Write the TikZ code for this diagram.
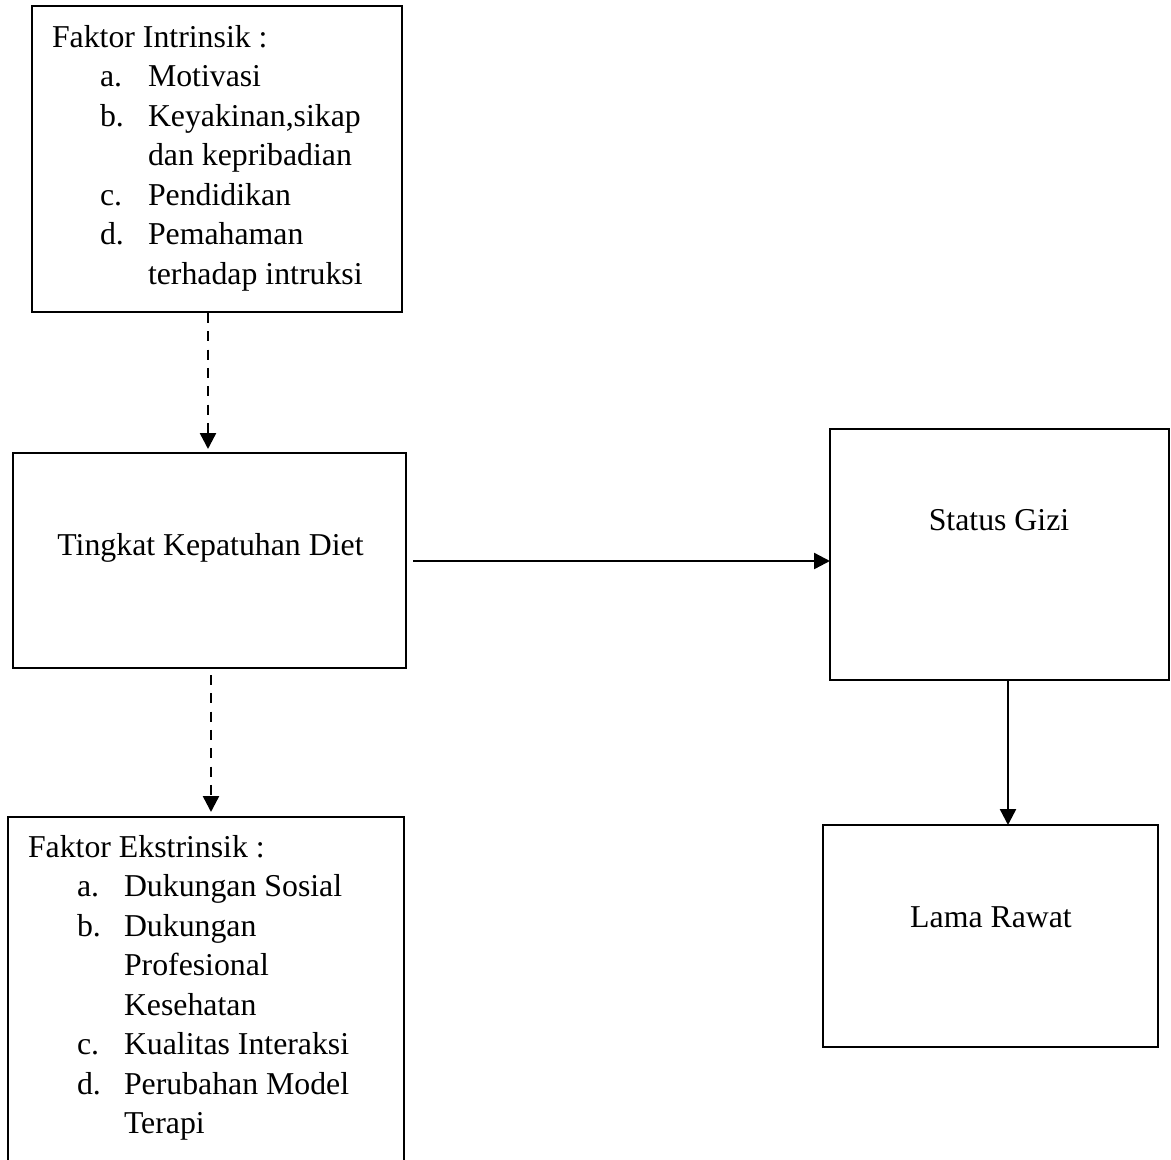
\documentclass[tikz,border=0pt]{standalone}
\usepackage{fontspec}
\setmainfont{Liberation Serif}
\usetikzlibrary{arrows.meta}
\begin{document}
\begin{tikzpicture}[x=1pt,y=-1pt,
  box/.style={draw, line width=2.2pt, inner sep=0pt, outer sep=0pt},
  txt/.style={inner sep=0pt, outer sep=0pt, font=\fontsize{31.8pt}{39.5pt}\selectfont},
  tl/.style={txt, anchor=base west},
  tc/.style={txt, anchor=base},
  conn/.style={line width=2.4pt, -{Triangle[length=16pt,width=16pt]}},
  dashconn/.style={conn, dash pattern=on 10pt off 8.3pt}]
\clip (0,0) rectangle (1171,1160);
% boxes
\node[box, minimum width=370pt, minimum height=306pt] (intr) at (217,159) {};
\node[box, minimum width=393pt, minimum height=215pt] (tingkat) at (209.5,560.5) {};
\node[box, minimum width=339pt, minimum height=251pt] (status) at (999.5,554.5) {};
\node[box, minimum width=335pt, minimum height=222pt] (lama) at (990.5,936) {};
\node[box, minimum width=396pt, minimum height=356pt] (ekstr) at (206,995) {};
% intrinsic text
\node[tl] (i0) at (52,47) {Faktor Intrinsik :};
\node[tl] (ia) at (100,86.5) {a.};
\node[tl] (ia1) at (148,86.5) {Motivasi};
\node[tl] (ib) at (100,126) {b.};
\node[tl] (ib1) at (148,126) {Keyakinan,sikap};
\node[tl] (ib2) at (148,165.5) {dan kepribadian};
\node[tl] (ic) at (100,205) {c.};
\node[tl] (ic1) at (148,205) {Pendidikan};
\node[tl] (id) at (100,244.5) {d.};
\node[tl] (id1) at (148,244.5) {Pemahaman};
\node[tl] (id2) at (148,284) {terhadap intruksi};
% centre texts
\node[tc] (t1) at (210.5,555) {Tingkat Kepatuhan Diet};
\node[tc] (t2) at (999,530) {Status Gizi};
\node[tc] (t3) at (991,927) {Lama Rawat};
% extrinsic text
\node[tl] (e0) at (28,857) {Faktor Ekstrinsik :};
\node[tl] (ea) at (77,896.5) {a.};
\node[tl] (ea1) at (124,896.5) {Dukungan Sosial};
\node[tl] (eb) at (77,936) {b.};
\node[tl] (eb1) at (124,936) {Dukungan};
\node[tl] (eb2) at (124,975.5) {Profesional};
\node[tl] (eb3) at (124,1015) {Kesehatan};
\node[tl] (ec) at (77,1054.5) {c.};
\node[tl] (ec1) at (124,1054.5) {Kualitas Interaksi};
\node[tl] (ed) at (77,1094) {d.};
\node[tl] (ed1) at (124,1094) {Perubahan Model};
\node[tl] (ed2) at (124,1133.5) {Terapi};
% connectors
\coordinate (c1) at (208,0);
\coordinate (c2) at (0,561);
\coordinate (c3) at (211,0);
\coordinate (c4) at (1008,0);
\draw[dashconn, shorten <=1pt, shorten >=4pt] (intr.south -| c1) -- (tingkat.north -| c1);
\draw[conn, shorten <=7pt] (tingkat.east |- c2) -- (status.west |- c2);
\draw[dashconn, shorten <=7pt, shorten >=5pt] (tingkat.south -| c3) -- (ekstr.north -| c3);
\draw[conn] (status.south -| c4) -- (lama.north -| c4);
\end{tikzpicture}
\end{document}
